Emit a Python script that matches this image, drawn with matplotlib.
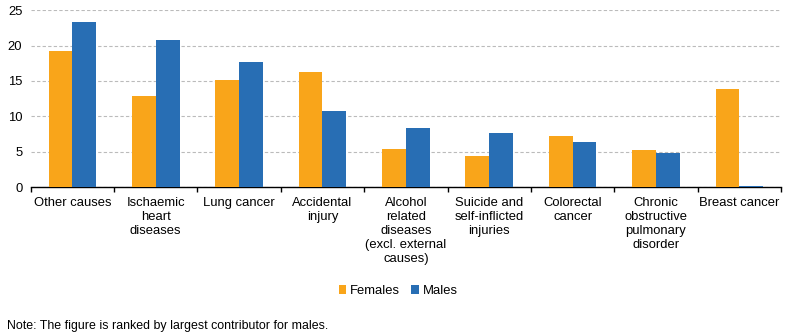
import matplotlib
matplotlib.use("Agg")
import matplotlib.pyplot as plt
import numpy as np

plt.rcParams['font.family'] = ['Liberation Sans', 'DejaVu Sans']

categories = ["Other causes", "Ischaemic\nheart\ndiseases", "Lung cancer", "Accidental\ninjury",
              "Alcohol\nrelated\ndiseases\n(excl. external\ncauses)", "Suicide and\nself-inflicted\ninjuries",
              "Colorectal\ncancer", "Chronic\nobstructive\npulmonary\ndisorder", "Breast cancer"]
females = [19.2, 12.9, 15.1, 16.3, 5.4, 4.4, 7.2, 5.2, 13.9]
males = [23.3, 20.8, 17.7, 10.8, 8.3, 7.6, 6.4, 4.8, 0.15]
yticks = [0, 5, 10, 15, 20, 25]

fig = plt.figure(figsize=(7.88, 3.35), dpi=100)
ax = fig.add_axes([30.7/788, 1-187/335, (781-30.7)/788, (187-10.3)/335])

x = np.arange(len(categories))
w = 0.285
ax.bar(x - w/2, females, w, color='#F9A51A', label='Females', zorder=3)
ax.bar(x + w/2, males, w, color='#286EB4', label='Males', zorder=3)

ax.set_xlim(-0.5, len(categories) - 0.5)
ax.set_ylim(0, 25)
ax.set_yticks(yticks)
ax.yaxis.grid(True, linestyle=(0, (3, 2)), color='#BBBBBB', linewidth=0.8, zorder=0)
for s in ['top', 'right', 'left']:
    ax.spines[s].set_visible(False)
ax.spines['bottom'].set_color('black')
ax.spines['bottom'].set_linewidth(1.0)
ax.tick_params(axis='y', length=0, labelsize=9.4, pad=6)
ax.set_xticks(x)
ax.set_xticklabels(categories, fontsize=9.4, linespacing=1.22, va='top')
ax.tick_params(axis='x', which='major', length=0, pad=7)
ax.set_xticks(np.arange(-0.5, len(categories), 1.0), minor=True)
ax.tick_params(axis='x', which='minor', length=3.5, width=1, color='black', direction='out')

fig.legend(loc='center', bbox_to_anchor=(398/788, 1-291/335), ncol=2, frameon=False,
           fontsize=9.4, handlelength=0.6, handleheight=0.6, handletextpad=0.25, columnspacing=0.9)
fig.text(7/788, 1-326/335, "Note: The figure is ranked by largest contributor for males.",
         fontsize=8.9, va='center', ha='left')

fig.savefig("out.png", dpi=100)
